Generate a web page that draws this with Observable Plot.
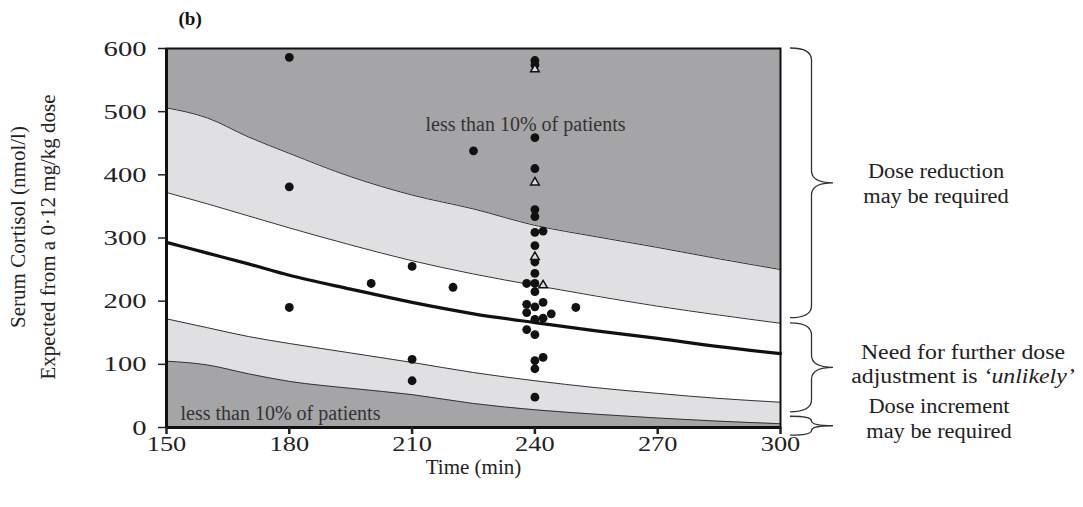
<!DOCTYPE html>
<html>
<head>
<meta charset="utf-8">
<script src="https://cdn.jsdelivr.net/npm/d3@7"></script>
<script src="https://cdn.jsdelivr.net/npm/@observablehq/plot@0.6"></script>
<style>
  html, body { margin: 0; padding: 0; background: #fff; }
  svg { font-family: "Liberation Serif", "Times New Roman", serif; }
</style>
</head>
<body>
<div id="chart"></div>
<script>
// ---- Data ----
const curveTimes = [150, 160, 170, 180, 195, 210, 225, 240, 255, 270, 285, 300];
const upper90 = [506, 490, 460, 434, 397, 368, 346, 320, 302, 285, 267, 250];
const upper75 = [372, 354, 335, 316, 289, 264, 243, 225, 208, 192, 178, 165];
const median  = [293, 276, 259, 241, 219, 198, 180, 166, 153, 141, 128, 117];
const lower25 = [172, 158, 144, 133, 118, 103, 87, 74, 63, 54, 46, 40];
const lower10 = [105, 99, 85, 73, 62, 52, 38, 28, 21, 15, 10, 6];

const circleTimes  = [180, 180, 180, 200, 210, 210, 210, 220, 225, 250,
  240, 240, 240, 240, 240, 240, 240, 242, 240, 240, 240,
  238, 240, 240, 238, 240, 242, 238, 244, 240, 242, 238, 240,
  240, 242, 240, 240];
const circleValues = [586, 381, 190, 228, 255, 108, 74, 222, 438, 190,
  581, 574, 459, 410, 345, 334, 309, 311, 288, 262, 244,
  228, 228, 215, 195, 191, 198, 182, 180, 171, 173, 155, 147,
  106, 111, 93, 48];
const triangleTimes  = [240, 240, 240, 242];
const triangleValues = [567, 388, 270, 225];

const xTicks = [150, 180, 210, 240, 270, 300];
const yTicks = [0, 100, 200, 300, 400, 500, 600];

const regionLabels = ["less than 10% of patients", "less than 10% of patients"];
const braceLow  = [173, 24, -13];
const braceHigh = [600, 165, 17];
const braceText = [
  ["Dose reduction", "may be required"],
  ["Need for further dose", "adjustment is "],
  ["Dose increment", "may be required"]
];

// ---- Build tables ----
const curves = curveTimes.map((t, i) => ({
  t, u90: upper90[i], u75: upper75[i], med: median[i], l25: lower25[i], l10: lower10[i], top: 600, bot: 0
}));
const circles = circleTimes.map((t, i) => ({t, v: circleValues[i]}));
const triangles = triangleTimes.map((t, i) => ({t, v: triangleValues[i]}));

const DARK = "#a5a5a7", LIGHT = "#e0e0e2";
const curveOpt = {curve: "monotone-x"};

// layout of annotation text relative to brace midpoints (pixels)
const braceTextDx = [103, 130, 106];
const braceTextDy = [[-5, 20], [-8, 16], [-13, 12]];
const braceStretch = [1.12, 1.19, 1.12];

function braces(index, scales, values, dimensions, context) {
  const g = d3.create("svg:g").attr("class", "braces");
  const x0 = dimensions.width - dimensions.marginRight + 10;
  const w = 43, h = w / 2;
  for (let i = 0; i < braceLow.length; i++) {
    const y1 = scales.y(braceHigh[i]), y2 = scales.y(braceLow[i]);
    const ym = (y1 + y2) / 2;
    const r = Math.min(12, (ym - y1) / 2);
    const p = `M${x0},${y1} Q${x0 + h},${y1} ${x0 + h},${y1 + r} L${x0 + h},${ym - r} Q${x0 + h},${ym} ${x0 + w},${ym} Q${x0 + h},${ym} ${x0 + h},${ym + r} L${x0 + h},${y2 - r} Q${x0 + h},${y2} ${x0},${y2}`;
    g.append("path").attr("d", p).attr("fill", "none").attr("stroke", "#333").attr("stroke-width", 1.3);
    const tx = x0 + w + braceTextDx[i];
    const lines = braceText[i];
    g.append("text").attr("class", "ann s" + i).attr("x", tx).attr("y", ym + braceTextDy[i][0]).attr("text-anchor", "middle")
      .attr("font-size", 20).attr("fill", "#222").text(lines[0]);
    const txt2 = g.append("text").attr("class", "ann s" + i).attr("x", tx).attr("y", ym + braceTextDy[i][1]).attr("text-anchor", "middle")
      .attr("font-size", 20).attr("fill", "#222");
    txt2.append("tspan").text(lines[1]);
    if (i === 1) txt2.append("tspan").attr("font-style", "italic").text("\u2018unlikely\u2019");
  }
  return g.node();
}

const chart = Plot.plot({
  width: 1083,
  height: 507,
  marginLeft: 166,
  marginRight: 303,
  marginTop: 48,
  marginBottom: 80,
  style: {fontFamily: "'Liberation Serif', serif", background: "#fff"},
  x: {domain: [150, 300], ticks: xTicks},
  y: {domain: [0, 600], ticks: yTicks},
  marks: [
    Plot.areaY(curves, {x: "t", y1: "u90", y2: "top", fill: DARK, ...curveOpt}),
    Plot.areaY(curves, {x: "t", y1: "u75", y2: "u90", fill: LIGHT, ...curveOpt}),
    Plot.areaY(curves, {x: "t", y1: "l25", y2: "u75", fill: "#ffffff", ...curveOpt}),
    Plot.areaY(curves, {x: "t", y1: "l10", y2: "l25", fill: LIGHT, ...curveOpt}),
    Plot.areaY(curves, {x: "t", y1: "bot", y2: "l10", fill: DARK, ...curveOpt}),
    Plot.line(curves, {x: "t", y: "u90", stroke: "#333", strokeWidth: 1, ...curveOpt}),
    Plot.line(curves, {x: "t", y: "u75", stroke: "#333", strokeWidth: 1, ...curveOpt}),
    Plot.line(curves, {x: "t", y: "l25", stroke: "#333", strokeWidth: 1, ...curveOpt}),
    Plot.line(curves, {x: "t", y: "l10", stroke: "#333", strokeWidth: 1, ...curveOpt}),
    Plot.line(curves, {x: "t", y: "med", stroke: "#111", strokeWidth: 3.2, ...curveOpt}),
    Plot.text([regionLabels[0]], {ariaLabel: "region", frameAnchor: "top", lineAnchor: "middle", dx: 52, dy: 76, text: d => d, fontSize: 20, fill: "#333"}),
    Plot.text([regionLabels[1]], {ariaLabel: "region", frameAnchor: "bottom-left", lineAnchor: "middle", dx: 14, dy: -14, textAnchor: "start", text: d => d, fontSize: 20, fill: "#333"}),
    Plot.dot(circles, {x: "t", y: "v", r: 4.4, fill: "#111", stroke: "none"}),
    Plot.dot(triangles, {x: "t", y: "v", r: 3.2, symbol: "triangle", fill: "#ddd", stroke: "#111", strokeWidth: 1.5}),
    Plot.frame({stroke: "#111", strokeWidth: 2}),
    Plot.ruleX([150], {stroke: "#111", strokeWidth: 3}),
    Plot.ruleY([0], {stroke: "#111", strokeWidth: 3}),
    Plot.axisX({ticks: xTicks, tickSize: 7, tickPadding: 1, fontSize: 22, strokeWidth: 2.5, label: null, tickFormat: d => String(d), color: "#222"}),
    Plot.axisY({ticks: yTicks, tickSize: 8, tickPadding: 12, fontSize: 22, strokeWidth: 1.5, label: null, tickFormat: d => String(d), color: "#222"}),
    Plot.text(["Time (min)"], {ariaLabel: "xlabel", frameAnchor: "bottom", lineAnchor: "middle", dy: 40, text: d => d, fontSize: 21, fill: "#222"}),
    Plot.text(["Serum Cortisol (nmol/l)"], {ariaLabel: "ylabel", frameAnchor: "left", textAnchor: "middle", lineAnchor: "middle", dx: -148, dy: -11, rotate: -90, text: d => d, fontSize: 21, fill: "#222"}),
    Plot.text(["Expected from a 0\u00b712 mg/kg dose"], {ariaLabel: "ylabel", frameAnchor: "left", textAnchor: "middle", lineAnchor: "middle", dx: -118, dy: -1, rotate: -90, text: d => d, fontSize: 21, fill: "#222"}),
    Plot.text(["(b)"], {ariaLabel: "panel", frameAnchor: "top-left", lineAnchor: "middle", textAnchor: "start", dx: 12, dy: -30, text: d => d, fontSize: 19, fontWeight: "bold", fill: "#111"}),
    braces
  ]
});
document.getElementById("chart").appendChild(chart);

// widen glyphs horizontally to match the reference's stretched type
function stretch(selector, k) {
  chart.querySelectorAll(selector).forEach(t => {
    const L = t.getComputedTextLength();
    if (L > 0) {
      t.setAttribute("textLength", (L * k).toFixed(1));
      t.setAttribute("lengthAdjust", "spacingAndGlyphs");
    }
  });
}
stretch('g[aria-label="x-axis tick label"] text', 1.2);
stretch('g[aria-label="y-axis tick label"] text', 1.3);
stretch('g[aria-label="region"] text', 1.15);
stretch('g[aria-label="xlabel"] text', 1.05);
stretch('g[aria-label="panel"] text', 1.5);
braceStretch.forEach((k, i) => stretch('g.braces text.s' + i, k));
stretch('g[aria-label="ylabel"] text', 1.12);
</script>
</body>
</html>
